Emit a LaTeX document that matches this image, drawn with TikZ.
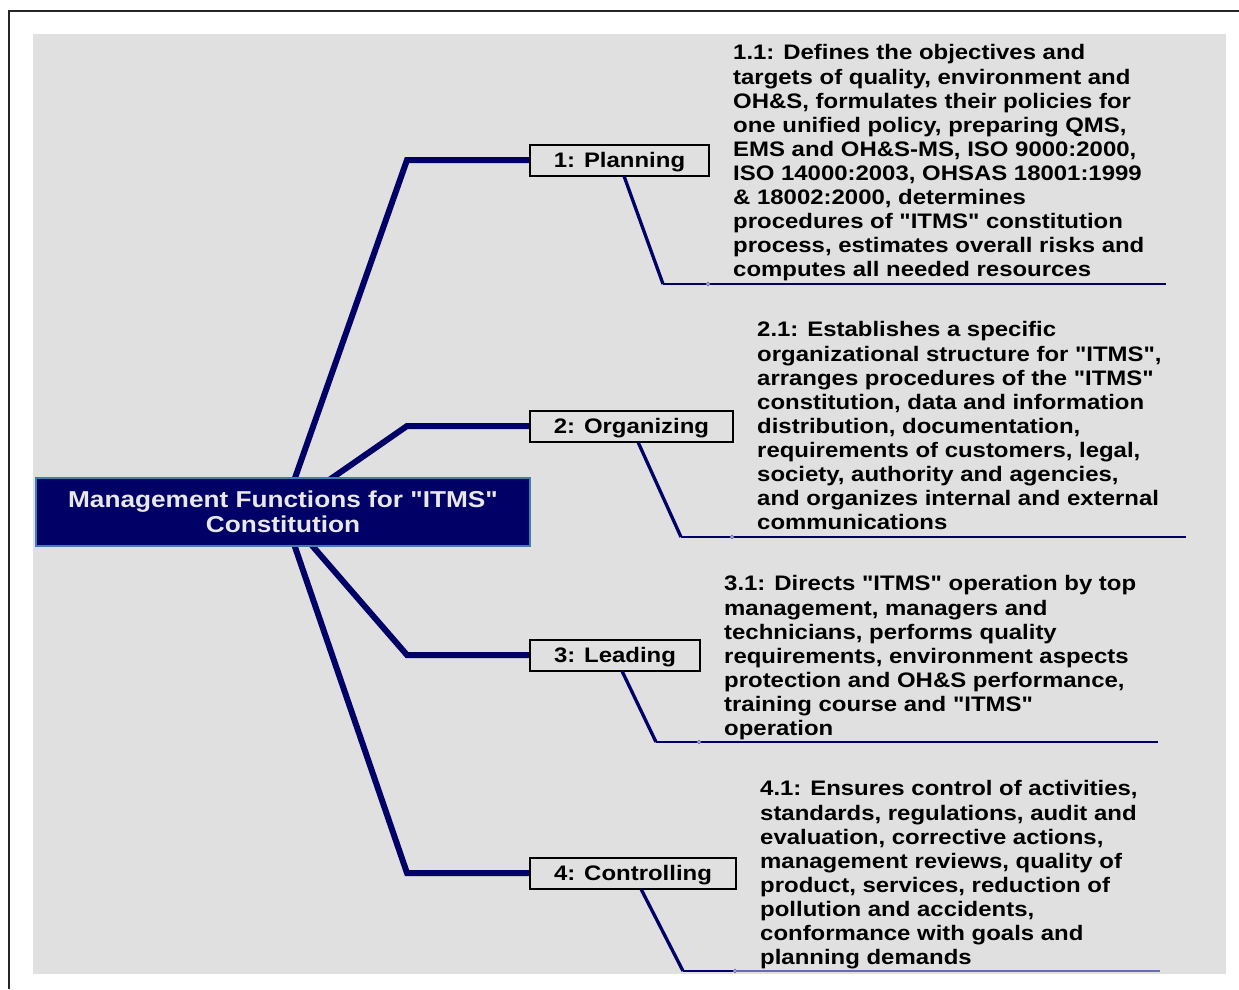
\documentclass[tikz,border=0pt]{standalone}
\usepackage{fontspec}
\setmainfont{Liberation Sans}
\newfontfamily\widesans[FakeStretch=1.14]{Liberation Sans}
\definecolor{panel}{HTML}{E0E0E0}
\definecolor{navy}{HTML}{000066}
\definecolor{rimblue}{HTML}{3F7FAF}
\definecolor{titletext}{HTML}{E8E8E8}
\definecolor{paleline}{HTML}{6A6AB0}
\tikzset{
  root/.style={draw=rimblue, line width=2.5pt, fill=navy, text=titletext,
    font=\widesans\bfseries\fontsize{23}{25}\selectfont, align=center,
    minimum width=494pt, minimum height=68pt, inner sep=0pt},
  branchbox/.style={draw=black, line width=2pt, fill=panel,
    font=\widesans\bfseries\fontsize{21}{24}\selectfont,
    text depth=0pt, minimum height=31pt, inner sep=0pt, anchor=west},
  trunk/.style={draw=navy, line width=6pt, line join=miter},
  twig/.style={draw=navy, line width=3.3pt},
  shelf/.style={draw=navy, line width=2pt},
  rule/.style={draw=navy, line width=1.2pt},
  dot/.style={circle, draw=paleline, fill=panel, line width=0.8pt, inner sep=0pt, minimum size=3.5pt},
  note/.style={anchor=north west, inner sep=0pt, align=left,
    font=\widesans\bfseries\fontsize{21}{24.1}\selectfont}
}
\begin{document}
\begin{tikzpicture}[x=1pt,y=-1pt]
\useasboundingbox (0,0) rectangle (1239,989);
% frame and background panel
\draw[line width=1.6pt, black!85] (9,989) -- (9,11) -- (1239,11);
\fill[panel] (33,34) rectangle (1226,974);

% centre and elbow points of the four main branches
\coordinate (c) at (283,512);
\coordinate (e1) at (407,160);
\coordinate (e2) at (407,426);
\coordinate (e3) at (407,655);
\coordinate (e4) at (407,873);

% anchors where the trunks meet the boxes
\coordinate (w1) at (529,160);
\coordinate (w2) at (529,426);
\coordinate (w3) at (529,655);
\coordinate (w4) at (529,873);

% trunks from the centre to each box
\draw[trunk] (c) -- (e1) -- (w1);
\draw[trunk] (c) -- (e2) -- (w2);
\draw[trunk] (c) -- (e3) -- (w3);
\draw[trunk] (c) -- (e4) -- (w4);

% central title
\node[root] (root) at (c) {Management Functions for "ITMS"\\Constitution};

% branch boxes
\node[branchbox, minimum width=179pt] (b1) at (w1) {1: Planning};
\node[branchbox, minimum width=203pt] (b2) at (w2) {2: Organizing};
\node[branchbox, minimum width=170pt] (b3) at (w3) {3: Leading};
\node[branchbox, minimum width=206pt] (b4) at (w4) {4: Controlling};

% sub-branches: slanted twig, short shelf, long rule
\coordinate (s1) at (624,176);  \coordinate (k1) at (663,284);
\coordinate (d1) at (708,284);  \coordinate (r1) at (1166,284);
\coordinate (s2) at (638,442);  \coordinate (k2) at (681,537);
\coordinate (d2) at (732,537);  \coordinate (r2) at (1186,537);
\coordinate (s3) at (622,671);  \coordinate (k3) at (656,742);
\coordinate (d3) at (699,742);  \coordinate (r3) at (1158,742);
\coordinate (s4) at (641,889);  \coordinate (k4) at (683,971);
\coordinate (d4) at (735,971);  \coordinate (r4) at (1160,971);

\draw[rule] (d1) -- (r1);
\draw[rule] (d2) -- (r2);
\draw[rule] (d3) -- (r3);
\draw[rule, draw=paleline] (d4) -- (r4);
\draw[twig] (s1) -- (k1);  \draw[shelf] (k1) -- (d1);
\draw[twig] (s2) -- (k2);  \draw[shelf] (k2) -- (d2);
\draw[twig] (s3) -- (k3);  \draw[shelf] (k3) -- (d3);
\draw[twig] (s4) -- (k4);  \draw[shelf] (k4) -- (d4);
\node[dot] (p1) at (d1) {};
\node[dot] (p2) at (d2) {};
\node[dot] (p3) at (d3) {};
\node[dot] (p4) at (d4) {};

% descriptions
\node[note] (t1) at (733,44.5) {1.1: Defines the objectives and\\
targets of quality, environment and\\
OH\&S, formulates their policies for\\
one unified policy, preparing QMS,\\
EMS and OH\&S-MS, ISO 9000:2000,\\
ISO 14000:2003, OHSAS 18001:1999\\
\& 18002:2000, determines\\
procedures of "ITMS" constitution\\
process, estimates overall risks and\\
computes all needed resources};

\node[note] (t2) at (757,321.5) {2.1: Establishes a specific\\
organizational structure for "ITMS",\\
arranges procedures of the "ITMS"\\
constitution, data and information\\
distribution, documentation,\\
requirements of customers, legal,\\
society, authority and agencies,\\
and organizes internal and external\\
communications};

\node[note] (t3) at (724,575.5) {3.1: Directs "ITMS" operation by top\\
management, managers and\\
technicians, performs quality\\
requirements, environment aspects\\
protection and OH\&S performance,\\
training course and "ITMS"\\
operation};

\node[note] (t4) at (760,780.5) {4.1: Ensures control of activities,\\
standards, regulations, audit and\\
evaluation, corrective actions,\\
management reviews, quality of\\
product, services, reduction of\\
pollution and accidents,\\
conformance with goals and\\
planning demands};
\end{tikzpicture}
\end{document}
